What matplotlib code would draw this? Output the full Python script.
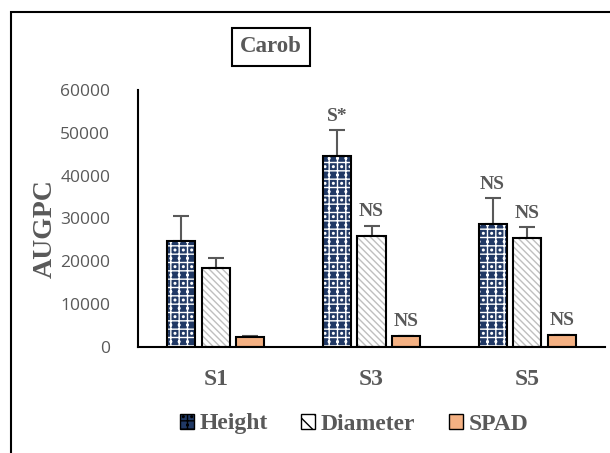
import matplotlib
matplotlib.use("Agg")
import numpy as np
import matplotlib.pyplot as plt
from matplotlib.patches import Rectangle, Patch

plt.rcParams["hatch.linewidth"] = 1.0

categories = ["S1", "S3", "S5"]
series = ["Height", "Diameter", "SPAD"]
height = [24700, 44600, 28600]
height_err = [6000, 6000, 6100]
diameter = [18400, 25900, 25500]
diameter_err = [2400, 2400, 2400]
spad = [2400, 2500, 2700]
spad_err = [120, 120, 150]
labels = [
    ["", "S*", "NS"],
    ["", "NS", "NS"],
    ["", "NS", "NS"],
]

GRAY = "#595959"
NAVY = "#203864"
ORANGE = "#F4B183"
SERIF = ["Liberation Serif", "DejaVu Serif"]

fig = plt.figure(figsize=(6.1, 4.53), dpi=100)
ax = fig.add_axes([138 / 610, 1 - 347 / 453, (605 - 138) / 610, (347 - 90) / 453])

x = np.arange(len(categories))
w = 0.18
off = 0.222

vals = [height, diameter, spad]
errs = [height_err, diameter_err, spad_err]
faces = [NAVY, "white", ORANGE]
hatches = ["++..", "\\\\\\\\\\", None]
hcolors = ["white", "#BFBFBF", None]

for i, (v, e) in enumerate(zip(vals, errs)):
    xs = x + (i - 1) * off
    ax.errorbar(xs, v, yerr=[np.zeros(3), e], fmt="none", ecolor=GRAY,
                elinewidth=1.5, capsize=6, capthick=1.5, zorder=1)
    if hatches[i]:
        ax.bar(xs, v, w, color=faces[i], edgecolor=hcolors[i], hatch=hatches[i],
               linewidth=0, zorder=2)
        ax.bar(xs, v, w, fill=False, edgecolor="black", linewidth=1.5, zorder=3)
    else:
        ax.bar(xs, v, w, color=faces[i], edgecolor="black", linewidth=1.5, zorder=2)
    for j in range(3):
        if labels[i][j]:
            top = v[j] + e[j]
            ax.annotate(labels[i][j], (xs[j], top), xytext=(0, 4),
                        textcoords="offset points", ha="center", va="bottom",
                        fontsize=14, fontweight="bold", color=GRAY, family=SERIF)

ax.set_xlim(-0.5, 2.5)
ax.set_ylim(0, 60000)
ax.set_yticks(range(0, 60001, 10000))
ax.set_yticklabels([str(t) for t in range(0, 60001, 10000)])
ax.set_xticks(x)
ax.set_xticklabels(categories, fontsize=17, fontweight="bold", color=GRAY, family=SERIF)
ax.tick_params(axis="y", length=0, pad=20, labelsize=12.5, labelcolor=GRAY)
ax.tick_params(axis="x", length=0, pad=16)
for t in ax.get_yticklabels():
    t.set_family("Open Sans")
for s in ["top", "right"]:
    ax.spines[s].set_visible(False)
for s in ["left", "bottom"]:
    ax.spines[s].set_linewidth(1.5)
    ax.spines[s].set_color("black")

fig.text(45 / 610, 1 - 229 / 453, "AUGPC", rotation=90, ha="center", va="center",
         fontsize=20, fontweight="bold", color=GRAY, family=SERIF)

fig.text(271 / 610, 1 - 47 / 453, "Carob", ha="center", va="center",
         fontsize=16.5, fontweight="bold", color=GRAY, family=SERIF,
         bbox=dict(boxstyle="square,pad=0.35", facecolor="white",
                   edgecolor="black", linewidth=1.5))

handles = [
    Patch(facecolor=NAVY, edgecolor="black", hatch="++.."),
    Patch(facecolor="white", edgecolor="black", hatch="\\\\"),
    Patch(facecolor=ORANGE, edgecolor="black"),
]
leg = fig.legend(handles, series, loc="center", bbox_to_anchor=(354 / 610, 1 - 424 / 453),
                 ncol=3, frameon=False, handlelength=0.6, handleheight=0.6,
                 handletextpad=0.25, columnspacing=1.4,
                 prop=dict(family=SERIF, weight="bold", size=17))
for t in leg.get_texts():
    t.set_color(GRAY)

fig.patches.append(Rectangle((11 / 610, -0.1), 1.2, 1.1 - 12 / 453, transform=fig.transFigure,
                             fill=False, edgecolor="black", linewidth=1.5))

fig.savefig("out.png", dpi=100)
